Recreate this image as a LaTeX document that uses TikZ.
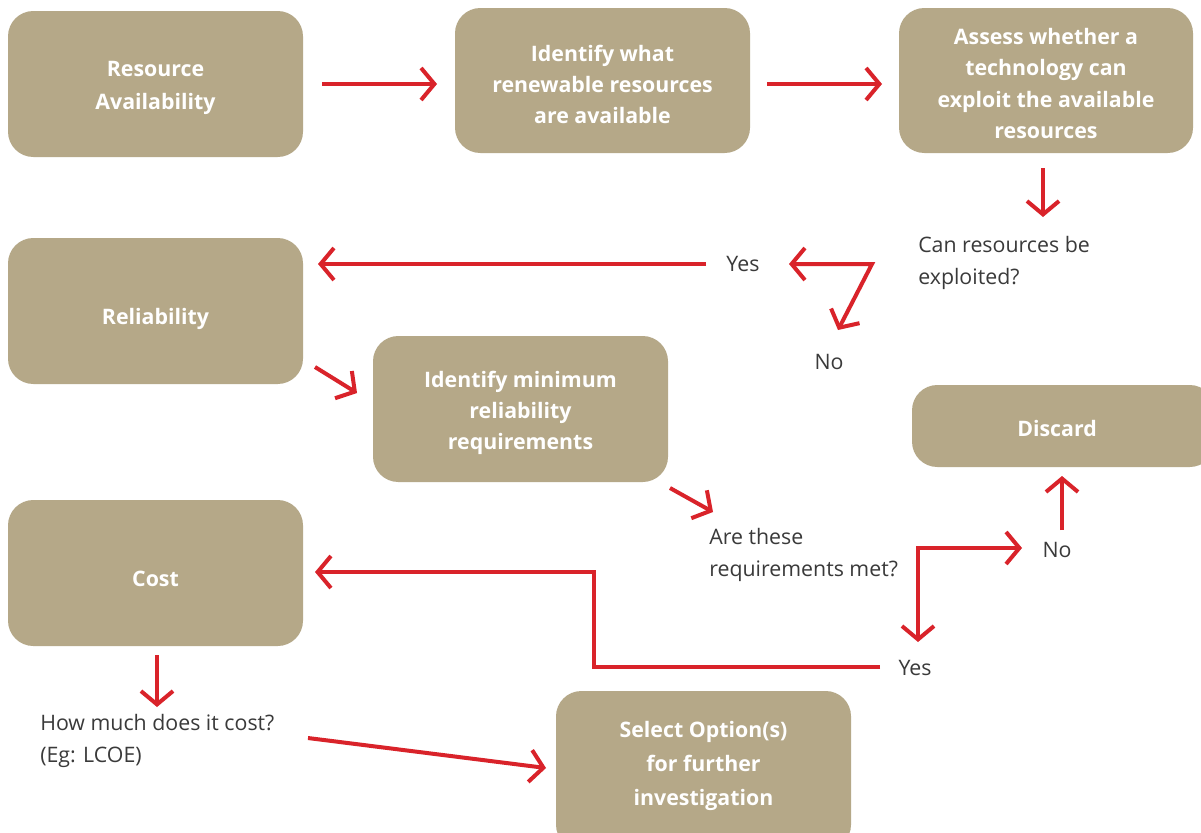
\documentclass[tikz,border=0pt]{standalone}
\usepackage{fontspec}
\setmainfont{Open Sans}
\usetikzlibrary{arrows.meta,fit,calc}
\definecolor{boxtan}{HTML}{B5A888}
\definecolor{arrred}{HTML}{D9232A}
\definecolor{txtgray}{HTML}{3A3A3A}
\tikzset{
  box/.style={fill=boxtan, rounded corners=19pt, inner sep=0pt},
  boxtxt/.style={text=white, align=center, inner sep=0pt,
    font=\fontsize{16}{23.5}\selectfont\bfseries},
  lbl/.style={font=\fontsize{16}{23.5}\selectfont, text=txtgray, align=left, inner sep=0pt},
  tip/.tip={Straight Barb[length=10pt,width=24pt]},
  arr/.style={draw=arrred, line width=3pt, line join=miter, -tip},
  arrboth/.style={draw=arrred, line width=3pt, line join=miter, tip-tip},
}
\begin{document}
\begin{tikzpicture}[x=0.75pt,y=-0.75pt]
\useasboundingbox[fill=white] (0,0) rectangle (1201,832);
% boxes
\node[box, fit={(8,11)(303,157)}] (ra) {};
\node[boxtxt, font=\fontsize{16}{24.75}\selectfont\bfseries] at ($(ra.center)+(0,4)$) {Resource\\Availability};
\node[box, fit={(455,8)(750,153)}] (id) {};
\node[boxtxt] at ($(id.center)+(0,4)$) {Identify what\\renewable resources\\are available};
\node[box, fit={(899,8)(1193,153)}] (as) {};
\node[boxtxt] at ($(as.center)+(0,3)$) {Assess whether a\\technology can\\exploit the available\\resources};
\node[box, fit={(8,238)(303,384)}] (rel) {};
\node[boxtxt] at ($(rel.center)+(0,8)$) {Reliability};
\node[box, fit={(373,336)(668,482)}] (imr) {};
\node[boxtxt] at ($(imr.center)+(0,4)$) {Identify minimum\\reliability\\requirements};
\node[box, fit={(912,385)(1215,467)}] (dis) {};
\node[boxtxt] at (1057,428) {Discard};
\node[box, fit={(556,691)(851,850)}] (sel) {};
\node[boxtxt, font=\fontsize{16}{25.5}\selectfont\bfseries] at (703.5,766) {Select Option(s)\\for further\\investigation};
\node[box, fit={(8,500)(303,646)}] (cost) {};
\node[boxtxt] at ($(cost.center)+(0,6)$) {Cost};
% labels
\node[lbl, anchor=west] (q1) at (918,263) {Can resources be\\exploited?};
\node[lbl] (yes1) at (743,264) {Yes};
\node[lbl] (no1) at (829,362) {No};
\node[lbl, anchor=west] (q2) at (709,555) {Are these\\requirements met?};
\node[lbl] (no2) at (1057,550) {No};
\node[lbl] (yes2) at (915,668) {Yes};
\node[lbl, anchor=west] (q3) at (40,741) {How much does it cost?\\(Eg: LCOE)};
% connector end points
\coordinate (a1s) at (322,84);  \coordinate (a1e) at (437,84);
\coordinate (a2s) at (767,84);  \coordinate (a2e) at (882,84);
\coordinate (a3s) at (1043,168); \coordinate (a3e) at (1043,217);
\coordinate (y1s) at (706,264); \coordinate (y1e) at (318,264);
\coordinate (c1) at (872,264);
\coordinate (c1a) at (789,264); \coordinate (c1b) at (838,330);
\coordinate (r1s) at (315,367); \coordinate (r1e) at (357,393);
\coordinate (r2s) at (670,488); \coordinate (r2e) at (713,512);
\coordinate (c2) at (918,548);
\coordinate (c2a) at (918,642); \coordinate (c2b) at (1022,548);
\coordinate (n2s) at (1062,530); \coordinate (n2e) at (1062,476);
\coordinate (y2s) at (880,667);
\coordinate (y2e) at (315,572);
\coordinate (k1s) at (157,655); \coordinate (k1e) at (157,707);
\coordinate (k2s) at (308,738); \coordinate (k2e) at (546,768);
% connectors
\draw[arr] (a1s) -- (a1e);
\draw[arr] (a2s) -- (a2e);
\draw[arr] (a3s) -- (a3e);
\draw[arr] (y1s) -- (y1e);
\draw[arrboth] (c1a) -- (c1) -- (c1b);
\draw[arr] (r1s) -- (r1e);
\draw[arr] (r2s) -- (r2e);
\draw[arrboth] (c2a) -- (c2) -- (c2b);
\draw[arr] (n2s) -- (n2e);
\draw[arr] (y2s) -- (594,667) -- (594,572) -- (y2e);
\draw[arr] (k1s) -- (k1e);
\draw[arr] (k2s) -- (k2e);
\end{tikzpicture}
\end{document}
